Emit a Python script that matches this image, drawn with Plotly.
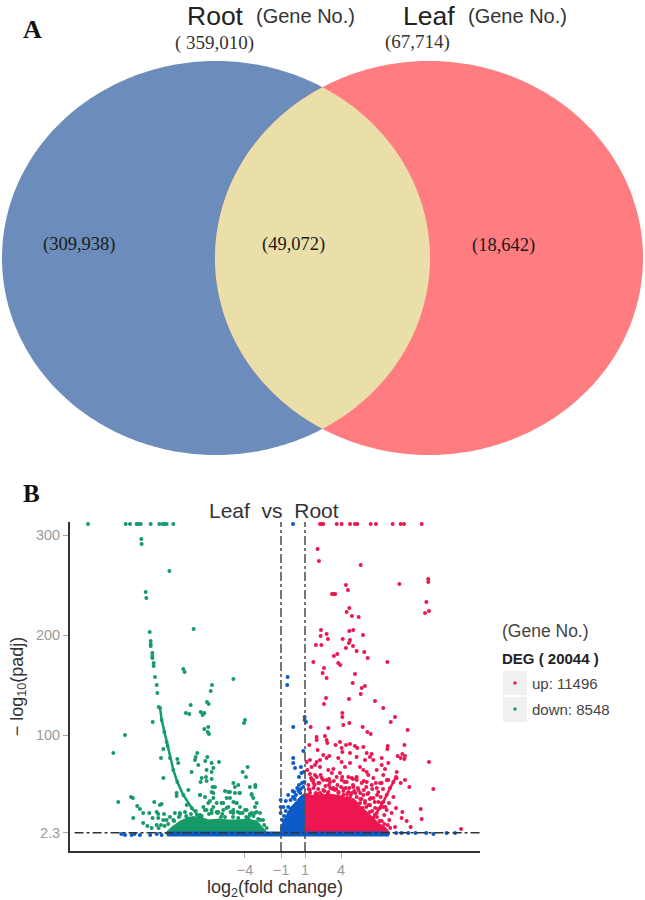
import numpy as np
import plotly.graph_objects as go

# ---------- Panel A: Venn labels ----------
root_total = "( 359,010)"
leaf_total = "(67,714)"
root_only = "(309,938)"
shared = "(49,072)"
leaf_only = "(18,642)"

# ---------- Panel B: volcano values (log2 fold change, -log10 padj) ----------
y_ticks = [2.3, 100, 200, 300]
y_tick_labels = ["2.3", "100", "200", "300"]
x_ticks = [-4, -1, 1, 4]
x_tick_labels = ["\u22124", "\u22121", "1", "4"]
fc_cut = [-1, 1]
padj_cut = 2.3
capped = 311

green_top_x = [-17.08, -13.94, -13.58, -13.03, -12.86, -12.69, -11.86, -11.14, -10.86, -10.69, -10.53, -9.97]
red_top_x = [2.25, 2.39, 2.52, 3.64, 4.05, 4.75, 5.16, 5.36, 6.47, 6.91, 8.3, 8.97, 9.25, 10.72]
blue_top_x = [0.0]

green_env_x = [-10.6, -10.1, -9.4, -8.6, -7.8, -7.0, -6.2, -5.4, -4.6, -3.8, -3.0, -2.6, -2.2]
green_env_y = [2.3, 8, 14, 18, 18, 15, 16, 15, 15, 16, 14, 9, 3]

red_env_x = [1, 1.84, 2.95, 4.06, 5.17, 6.28, 7.11, 7.67, 8.08]
red_env_y = [40, 39, 41, 39, 33, 22, 12, 8, 2.3]

blue_env_x = [-1.08, -0.8, -0.53, -0.25, 0.02, 0.3, 0.58, 0.97, 1.0]
blue_env_y = [7, 13, 20, 27, 30, 34, 38, 42, 42]

blue_band_x = [-10.5, 8.0]
blue_band_y = [1, 1]

green_curve = [(-11.19, 128), (-11.08, 127), (-10.94, 115), (-10.72, 103), (-10.53, 93), (-10.25, 77), (-9.97, 65),
               (-9.64, 53), (-9.14, 40), (-8.44, 27), (-7.75, 17), (-7.33, 12)]
red_curve = [(6.69, 17), (6.97, 22), (7.25, 27), (7.52, 33), (7.8, 40), (8.08, 47), (8.36, 53), (8.58, 58)]

green_pts = [
    (-12.64, 296), (-12.61, 291), (-10.3, 264), (-12.28, 243), (-12.22, 237), (-8.28, 206), (-11.94, 203),
    (-11.86, 194), (-11.86, 191), (-11.86, 189), (-11.72, 182), (-11.72, 179), (-11.72, 177), (-11.61, 172),
    (-11.61, 169), (-9.14, 166), (-11.5, 158), (-11.36, 150), (-11.3, 142), (-9.03, 163), (-4.97, 156),
    (-6.75, 150), (-6.86, 144), (-8.53, 130), (-7.17, 133), (-7.03, 131), (-8.92, 122), (-8.64, 121),
    (-7.69, 123), (-7.53, 120), (-7.39, 122), (-11.69, 113), (-4.0, 115), (-4.08, 112), (-14.0, 100),
    (-14.97, 82), (-7.39, 106), (-7.06, 108), (-7.11, 103), (-7.0, 101),
    (-11.0, 77), (-10.8, 86), (-10.45, 89), (-9.64, 76), (-9.56, 72), (-10.8, 57), (-9.7, 39), (-9.7, 42),
    (-8.11, 78), (-7.98, 82), (-8.17, 75), (-7.89, 70), (-7.31, 74), (-7.14, 78), (-6.78, 72), (-6.64, 67),
    (-6.17, 73), (-6.78, 63), (-7.2, 65), (-8.45, 63), (-7.61, 57), (-7.7, 53), (-7.25, 58), (-7.2, 54),
    (-6.78, 56), (-4.2, 63), (-3.78, 68), (-3.92, 58), (-6.7, 48), (-6.5, 48), (-6.78, 43), (-4.97, 52),
    (-4.56, 50), (-4.84, 48), (-5.67, 44), (-5.25, 43), (-4.84, 42), (-4.42, 42), (-3.59, 48), (-3.14, 50),
    (-3.14, 48), (-3.45, 41), (-3.31, 37), (-7.75, 40), (-7.33, 38), (-8.72, 45), (-14.56, 33), (-13.5, 38),
    (-13.34, 37), (-12.98, 29), (-12.75, 26), (-12.48, 22), (-13.31, 17), (-11.56, 33), (-10.95, 31),
    (-11.09, 30), (-11.98, 22), (-11.36, 23), (-11.23, 21), (-10.75, 21), (-11.7, 17), (-11.23, 17),
    (-10.81, 15), (-10.53, 15), (-12.48, 12), (-12.14, 9), (-11.78, 7), (-11.36, 10), (-6.64, 37), (-6.92, 34),
    (-6.36, 32), (-5.81, 32), (-5.53, 37), (-4.97, 33), (-4.7, 32), (-5.39, 28), (-7.47, 28), (-7.2, 25),
    (-6.78, 25), (-6.36, 23), (-5.81, 25), (-4.97, 25), (-4.42, 28), (-3.86, 25), (-3.17, 28), (-3.03, 23),
    (-2.75, 22), (-3.45, 22), (-8.86, 30), (-9.0, 23), (-10.25, 18), (-9.84, 22), (-9.42, 22),
    (-9.9, 14), (-9.5, 18), (-8.9, 19), (-8.5, 21), (-8.0, 20), (-7.6, 19), (-7.0, 21), (-6.3, 22), (-5.9, 21),
    (-5.2, 23), (-4.6, 23), (-4.2, 22), (-3.6, 21), (-3.3, 19), (-2.9, 16), (-2.5, 15),
    (-9.98, 15), (-9.42, 20), (-8.86, 18), (-8.31, 17), (-7.75, 20), (-7.34, 25), (-7.06, 32), (-6.64, 28),
    (-6.23, 23), (-5.95, 32), (-5.53, 27), (-5.25, 37), (-4.7, 32), (-4.98, 22), (-4.42, 22), (-4.0, 25),
    (-3.59, 20), (-3.17, 22), (-2.75, 15), (-3.03, 32), (-3.45, 40), (-4.48, 42), (-5.39, 43), (-6.64, 42),
    (-7.75, 40), (-6.78, 22), (-5.67, 18), (-4.56, 17), (-3.72, 17), (-11.0, 10), (-11.2, 7), (-10.7, 9),
    (-10.4, 11), (-8.1, 24), (-6.0, 18), (-5.0, 18), (-3.9, 18), (-2.4, 10), (-2.2, 7),
]

red_pts = [
    (2.05, 286), (2.16, 274), (5.64, 270), (8.86, 251), (11.27, 256), (11.27, 253), (4.41, 250), (4.58, 245),
    (3.25, 241), (3.39, 241), (3.52, 241), (11.11, 233), (11.33, 224), (11.0, 222), (4.69, 227), (4.47, 223),
    (4.91, 219), (5.47, 218), (2.33, 205), (5.02, 205), (4.69, 204), (2.8, 201), (2.3, 199), (5.83, 200),
    (2.91, 196), (4.14, 196), (4.75, 195), (4.66, 192), (1.91, 190), (2.36, 190), (5.0, 189), (4.41, 187),
    (5.3, 184), (5.94, 183), (3.69, 181), (3.41, 179), (6.22, 177), (1.69, 173), (7.86, 173), (3.77, 172),
    (3.94, 170), (2.58, 167), (2.47, 162), (2.8, 157), (5.16, 161), (4.97, 152), (5.99, 149), (5.72, 147),
    (5.64, 141), (2.75, 137), (4.66, 136), (2.58, 131), (6.83, 134), (7.52, 127), (4.11, 122), (4.11, 118),
    (8.5, 118), (8.14, 113), (4.19, 110), (4.69, 112), (5.8, 108), (1.47, 108), (2.94, 107), (9.55, 105),
    (6.19, 103), (6.47, 101), (1.97, 98), (1.97, 95), (2.66, 99), (2.8, 95), (2.86, 92), (3.91, 93), (1.36, 90),
    (3.55, 90), (4.75, 91), (4.42, 90), (5.86, 88), (5.16, 89), (5.36, 87), (7.89, 89), (7.86, 86), (9.28, 90),
    (4.05, 87), (4.11, 83), (2.05, 85), (6.55, 81), (6.14, 82), (4.75, 82), (8.72, 79), (9.11, 81), (9.33, 79),
    (8.97, 77), (9.28, 76), (11.33, 73), (2.52, 80), (3.02, 79), (2.8, 77), (1.41, 75), (1.14, 73), (1.97, 73),
    (2.25, 75), (3.77, 77), (4.05, 73), (5.3, 78), (7.39, 77), (6.69, 75), (6.0, 75), (6.41, 78), (7.94, 72),
    (7.39, 70), (1.55, 68), (1.83, 70), (2.25, 68), (2.94, 65), (3.36, 66), (4.33, 68), (4.75, 72), (5.58, 68),
    (5.86, 65), (6.14, 63), (8.64, 63), (7.66, 66), (6.97, 65), (7.52, 60), (1.19, 65), (1.41, 61), (1.83, 60),
    (1.69, 55), (2.52, 55), (3.08, 53), (3.91, 62), (4.61, 58), (5.3, 58), (6.27, 60), (6.69, 57), (7.25, 52),
    (7.94, 55), (8.64, 57), (8.97, 52), (9.33, 55), (9.69, 48), (11.69, 46), (10.64, 26), (10.72, 16), (9.11, 23),
    (9.47, 14), (9.8, 8), (8.58, 27), (7.8, 25), (8.22, 22), (8.02, 15), (8.5, 8), (14.0, 6), (8.36, 38),
    (7.39, 32), (9.05, 17),
    (1.2, 40), (1.4, 45), (1.6, 38), (1.8, 50), (1.9, 42), (2.1, 46), (2.2, 52), (2.4, 40), (2.6, 44), (2.7, 49),
    (2.9, 42), (3.1, 47), (3.2, 39), (3.4, 54), (3.5, 45), (3.7, 50), (3.8, 43), (4.0, 48), (4.2, 44), (4.3, 53),
    (4.5, 41), (4.7, 47), (4.8, 40), (5.0, 50), (5.1, 44), (5.3, 38), (5.4, 47), (5.6, 42), (5.7, 36), (5.9, 45),
    (6.0, 34), (6.2, 41), (6.3, 30), (6.5, 37), (6.6, 46), (6.8, 33), (7.0, 40), (7.1, 26), (7.3, 38), (7.5, 46),
    (7.6, 20), (7.7, 28), (8.0, 32), (6.9, 52), (3.0, 56), (1.5, 57), (2.3, 60), (4.1, 58), (5.0, 56), (5.9, 54),
    (6.1, 28), (6.6, 24), (7.0, 18), (7.4, 14), (7.9, 10), (5.6, 36), (4.9, 42), (4.2, 46), (3.3, 46), (2.0, 41),
    (1.28, 50), (1.7, 47), (2.11, 52), (2.53, 45), (2.95, 43), (3.36, 47), (3.78, 42), (4.2, 40), (4.61, 43),
    (5.03, 48), (5.45, 45), (5.86, 40), (6.28, 42), (6.7, 37), (7.11, 33), (7.53, 28), (1.42, 42), (1.84, 40),
    (2.25, 42), (2.67, 38), (3.23, 38), (3.64, 37), (4.34, 35), (4.75, 37), (5.17, 33), (5.59, 32), (6.0, 32),
    (6.42, 30), (6.84, 27), (1.56, 55), (1.98, 58), (2.39, 57), (2.81, 55), (3.23, 62), (3.64, 58), (4.06, 55),
    (4.48, 53), (4.89, 57), (5.31, 55), (5.73, 52), (6.14, 53), (6.56, 50), (6.98, 47), (7.39, 52), (7.81, 55),
    (1.1, 38), (1.5, 36), (2.0, 36), (2.5, 37), (3.0, 37), (3.5, 36), (4.0, 36), (4.5, 37), (5.0, 35), (5.4, 31),
    (5.8, 27), (6.4, 23), (6.8, 20), (7.2, 14), (7.6, 11), (8.1, 7), (1.3, 46), (1.7, 52), (3.0, 50), (3.6, 46),
    (4.4, 47), (5.2, 42), (6.1, 48), (6.4, 36), (7.1, 43),
]

blue_pts = [
    (-0.45, 158), (-0.48, 150), (0.02, 108), (0.86, 84), (0.02, 77), (0.02, 72), (0.17, 67), (0.66, 68), (0.9, 63),
    (0.97, 118), (0.97, 115), (1.08, 113), (-1.03, 35), (-1.03, 28), (-1.03, 22), (-0.03, 44),
    (-0.4, 28), (-0.2, 35), (0.0, 38), (0.1, 43), (0.25, 40), (0.35, 47), (0.45, 44), (0.5, 50), (0.65, 46),
    (0.75, 52), (0.85, 48), (0.95, 53), (-0.6, 24), (-0.75, 19), (-0.9, 15), (0.15, 36), (0.6, 42), (0.5, 58),
    (0.7, 62), (-0.4, 40), (-0.6, 34), (-0.8, 28),
    (-14.3, 1), (-14.0, 0), (-13.45, 0), (-13.2, 1), (-12.75, 0), (-11.9, 0), (-11.35, 1), (-10.95, 0),
    (8.6, 2), (9.05, 2), (9.6, 2), (10.2, 2), (11.1, 2), (11.7, 1), (12.8, 2), (13.5, 2),
]

fig = go.Figure()

# ---------- Panel A ----------
t = np.linspace(0, 2 * np.pi, 361)
CY, RX, RY, CL, CR = 258, 214, 197, 216, 429


def ellipse(cx, a):
    return cx + RX * np.cos(a), CY + RY * np.sin(a)


for cx, col in [(CL, "#6c8dbb"), (CR, "#ff7c80")]:
    ex, ey = ellipse(cx, t)
    fig.add_trace(go.Scatter(x=ex, y=ey, fill="toself", fillcolor=col, mode="none",
                             hoverinfo="skip", showlegend=False, xaxis="x", yaxis="y"))
phi = np.arccos((CR - CL) / (2 * RX))
lx, ly = ellipse(CL, np.linspace(-phi, phi, 90))
rx, ry = ellipse(CR, np.linspace(np.pi - phi, np.pi + phi, 90))
fig.add_trace(go.Scatter(x=np.r_[lx, rx], y=np.r_[ly, ry], fill="toself", fillcolor="#ebdfa9", mode="none",
                         hoverinfo="skip", showlegend=False, xaxis="x", yaxis="y"))

# ---------- Panel B ----------
GREEN, RED, BLUE = "#169a68", "#ee1650", "#0a5ac8"


def area(xs, ys, col):
    fig.add_trace(go.Scatter(x=xs, y=ys, mode="lines", line=dict(color=col, width=1), fill="tozeroy",
                             fillcolor=col, hoverinfo="skip", showlegend=False, xaxis="x2", yaxis="y2"))


def dots(pairs, col, size=4, mode="markers"):
    fig.add_trace(go.Scatter(x=[p[0] for p in pairs], y=[p[1] for p in pairs], mode=mode,
                             marker=dict(color=col, size=size), line=dict(color=col, width=2.5),
                             hoverinfo="skip", showlegend=False, xaxis="x2", yaxis="y2"))


area(green_env_x, green_env_y, GREEN)
area(blue_env_x, blue_env_y, BLUE)
area(red_env_x, red_env_y, RED)
fig.add_trace(go.Scatter(x=blue_band_x, y=blue_band_y, mode="lines", line=dict(color=BLUE, width=5),
                         hoverinfo="skip", showlegend=False, xaxis="x2", yaxis="y2"))
dots(green_pts, GREEN)
dots([(v, capped) for v in green_top_x], GREEN)
dots(green_curve, GREEN, mode="lines+markers")
dots(red_pts, RED)
dots([(v, capped) for v in red_top_x], RED)
dots(red_curve, RED, mode="lines+markers")
dots(blue_pts, BLUE)
dots([(v, capped) for v in blue_top_x], BLUE)

# legend keys
fig.add_trace(go.Scatter(x=[515], y=[683], mode="markers", marker=dict(color=RED, size=3.5),
                         hoverinfo="skip", showlegend=False, xaxis="x", yaxis="y"))
fig.add_trace(go.Scatter(x=[515], y=[709], mode="markers", marker=dict(color=GREEN, size=3.5),
                         hoverinfo="skip", showlegend=False, xaxis="x", yaxis="y"))

SANS = "Liberation Sans"
SERIF = "Liberation Serif"


def label(x, y, text, size, font=SANS, color="#222222", anchor="left"):
    return dict(x=x, y=y, xref="x", yref="y", text=text, showarrow=False, xanchor=anchor, yanchor="middle",
                font=dict(family=font, size=size, color=color))


annotations = [
    label(21, 29, "<b>A</b>", 26, SERIF, "#111111"),
    label(21, 493, "<b>B</b>", 25, SERIF, "#111111"),
    label(185, 16, "Root", 26.5),
    label(254, 16, "(Gene No.)", 20, color="#333333"),
    label(401, 16, "Leaf", 26.5),
    label(466, 16, "(Gene No.)", 20, color="#333333"),
    label(173, 43, root_total, 19, SERIF, "#333333"),
    label(383, 42, leaf_total, 19, SERIF, "#333333"),
    label(41, 244, root_only, 18.5, SERIF, "#1a1a1a"),
    label(260, 244, shared, 18.5, SERIF, "#1a1a1a"),
    label(470, 245, leaf_only, 18.5, SERIF, "#1a1a1a"),
    label(207, 510, "Leaf&#160;&#160;vs&#160;&#160;Root", 21, color="#333333"),
    label(500, 631, "(Gene No.)", 17.5, color="#444444"),
    label(500, 658, "<b>DEG ( 20044 )</b>", 15, color="#222222"),
    label(530, 683, "up: 11496", 15, color="#444444"),
    label(530, 709, "down: 8548", 15, color="#444444"),
]

DASH = "#555555"
shapes = [
    dict(type="rect", xref="x", yref="y", x0=503, x1=527, y0=671, y1=695, fillcolor="#f0f0f0", line_width=0, layer="below"),
    dict(type="rect", xref="x", yref="y", x0=503, x1=527, y0=697, y1=722, fillcolor="#f0f0f0", line_width=0, layer="below"),
    dict(type="line", xref="x2", yref="y2", x0=-18.2, x1=15.58, y0=padj_cut, y1=padj_cut,
         line=dict(color="#333333", width=1.6, dash="dashdot"), layer="above"),
]
for v in fc_cut:
    shapes.append(dict(type="line", xref="x2", yref="y2 domain", x0=v, x1=v, y0=0, y1=1,
                       line=dict(color=DASH, width=1.6, dash="dashdot"), layer="above"))

fig.update_layout(
    width=645, height=900, margin=dict(l=0, r=0, t=0, b=0), autosize=False,
    paper_bgcolor="white", plot_bgcolor="white", showlegend=False, hovermode=False,
    annotations=annotations, shapes=shapes,
    xaxis=dict(domain=[0, 1], range=[0, 645], visible=False, fixedrange=True),
    yaxis=dict(domain=[0, 1], range=[900, 0], visible=False, fixedrange=True),
    xaxis2=dict(domain=[70 / 645, 480 / 645], range=[-18.58, 15.58], anchor="y2",
                tickmode="array", tickvals=x_ticks, ticktext=x_tick_labels,
                showgrid=False, zeroline=False, showline=True, linecolor="#333333", linewidth=2,
                ticks="outside", ticklen=5, tickcolor="#aaaaaa", tickwidth=1,
                tickfont=dict(family=SANS, size=14.5, color="#9a9a9a"),
                title=dict(text="log<sub>2</sub>(fold change)", standoff=4,
                           font=dict(family=SANS, size=18, color="#333333"))),
    yaxis2=dict(domain=[49 / 900, 378 / 900], range=[-16, 313], anchor="x2",
                tickmode="array", tickvals=y_ticks, ticktext=y_tick_labels,
                showgrid=False, zeroline=False, showline=True, linecolor="#333333", linewidth=2,
                ticks="outside", ticklen=5, tickcolor="#aaaaaa", tickwidth=1,
                tickfont=dict(family=SANS, size=14.5, color="#9a9a9a"),
                title=dict(text="\u2212 log<sub>10</sub>(padj)", standoff=8,
                           font=dict(family=SANS, size=18, color="#333333"))),
)

fig.write_html("out.html", config=dict(displayModeBar=False, responsive=False),
               post_script="document.body.style.margin='0';document.body.style.overflow='hidden';")
